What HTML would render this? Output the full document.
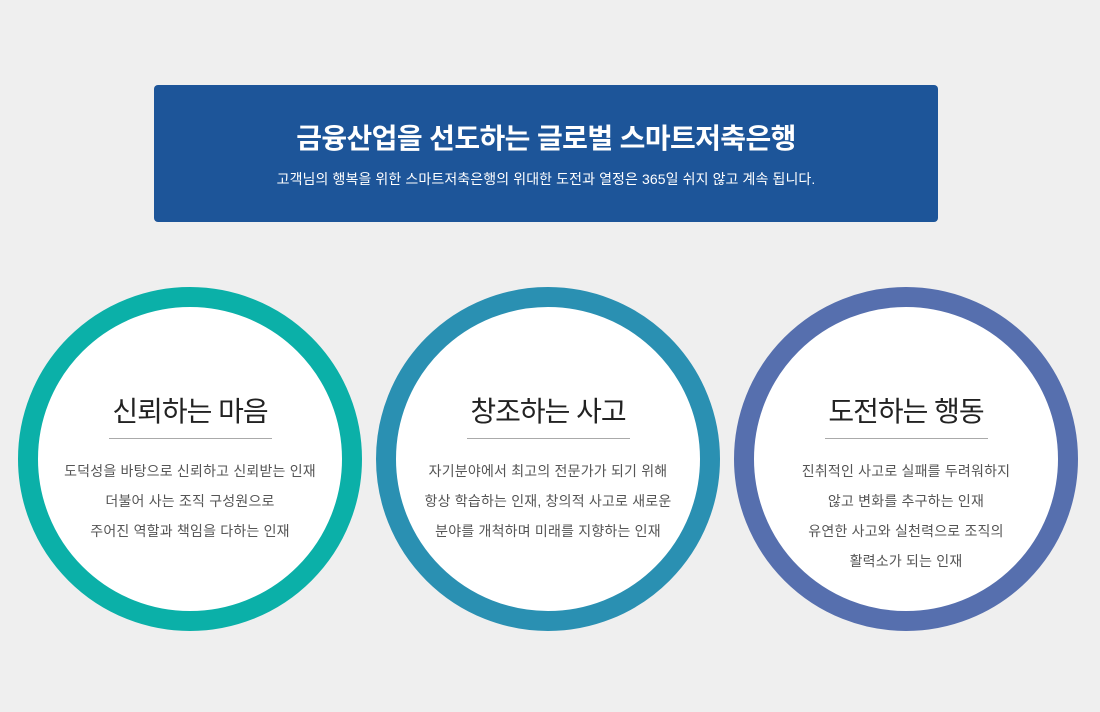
<!DOCTYPE html>
<html><head><meta charset="utf-8"><style>
body{margin:0;width:1100px;height:712px;background:#efefef;font-family:"Liberation Sans","Noto Sans CJK KR",sans-serif;position:relative;overflow:hidden}
.banner{position:absolute;left:154px;top:85px;width:784px;height:137px;background:#1d5599;border-radius:4px;color:#fff;text-align:center}
.banner h1{margin:0;position:absolute;top:32px;width:100%;font-size:28px;font-weight:bold;letter-spacing:-0.6px}
.banner p{margin:0;position:absolute;top:84px;width:100%;font-size:14px;letter-spacing:0.1px}
.c{position:absolute;top:287px;width:344px;height:344px;border-radius:50%;box-sizing:border-box;border:20px solid;background:#fff;text-align:center}
.c h2{margin:0;position:absolute;top:83px;width:100%;font-size:28px;font-weight:normal;color:#222;letter-spacing:-1px}
.c hr{position:absolute;top:131px;left:71px;width:163px;margin:0;border:0;border-top:1px solid #aaa}
.c .t{position:absolute;top:149px;width:100%;font-size:14px;line-height:30px;color:#555;letter-spacing:0.2px}
</style></head><body>
<div class="banner"><h1>금융산업을 선도하는 글로벌 스마트저축은행</h1><p>고객님의 행복을 위한 스마트저축은행의 위대한 도전과 열정은 365일 쉬지 않고 계속 됩니다.</p></div>
<div class="c" style="left:18px;border-color:#0bb0a8"><h2>신뢰하는 마음</h2><hr><div class="t">도덕성을 바탕으로 신뢰하고 신뢰받는 인재<br>더불어 사는 조직 구성원으로<br>주어진 역할과 책임을 다하는 인재</div></div>
<div class="c" style="left:376px;border-color:#2a90b2"><h2>창조하는 사고</h2><hr><div class="t">자기분야에서 최고의 전문가가 되기 위해<br>항상 학습하는 인재, 창의적 사고로 새로운<br>분야를 개척하며 미래를 지향하는 인재</div></div>
<div class="c" style="left:734px;border-color:#566fae"><h2>도전하는 행동</h2><hr><div class="t">진취적인 사고로 실패를 두려워하지<br>않고 변화를 추구하는 인재<br>유연한 사고와 실천력으로 조직의<br>활력소가 되는 인재</div></div>
</body></html>
